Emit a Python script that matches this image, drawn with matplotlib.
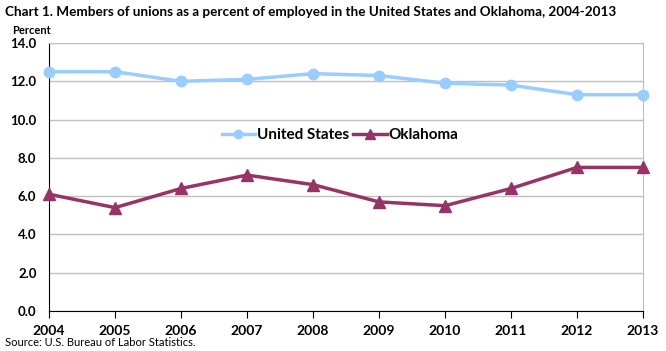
import matplotlib
matplotlib.use("Agg")
import matplotlib.pyplot as plt

years = [2004, 2005, 2006, 2007, 2008, 2009, 2010, 2011, 2012, 2013]
us_values = [12.5, 12.5, 12.0, 12.1, 12.4, 12.3, 11.9, 11.8, 11.3, 11.3]
ok_values = [6.1, 5.4, 6.4, 7.1, 6.6, 5.7, 5.5, 6.4, 7.5, 7.5]
y_ticks = [0, 2, 4, 6, 8, 10, 12, 14]

plt.rcParams['font.family'] = ['Lato', 'DejaVu Sans']

fig = plt.figure(figsize=(6.66, 3.51), dpi=100)
ax = fig.add_axes([49/666, (351-311)/351, (643-49)/666, (311-43)/351])

us_color = "#99CCFF"
ok_color = "#993366"
ax.plot(years, us_values, color=us_color, lw=2.5, marker="o", ms=7.5, label="United States", clip_on=False, zorder=3)
ax.plot(years, ok_values, color=ok_color, lw=2.5, marker="^", ms=8.5, label="Oklahoma", clip_on=False, zorder=3)

ax.set_xlim(2004, 2013)
ax.set_ylim(0, 14)
ax.set_yticks(y_ticks)
ax.set_yticklabels([f"{v:.1f}" for v in y_ticks], fontsize=9.5, fontweight="bold")
ax.set_xticks(years)
ax.set_xticklabels([str(y) for y in years], fontsize=10, fontweight="bold")
ax.yaxis.grid(True, color="#BFBFBF", lw=1)
ax.set_axisbelow(True)
for s in ["top", "right"]:
    ax.spines[s].set_color("#BFBFBF")
for s in ["left", "bottom"]:
    ax.spines[s].set_color("black")
ax.tick_params(axis="y", length=0, pad=9)
ax.tick_params(axis="x", length=5, direction="out", pad=5, color="black")

leg = ax.legend(loc="center", bbox_to_anchor=(0.49, 0.655), ncol=2, frameon=False,
                prop={'weight': 'bold', 'size': 11}, handlelength=2.2, columnspacing=0.3,
                handletextpad=0.1, markerscale=0.8)

fig.text(5/666, 1 - 12/351, "Chart 1. Members of unions as a percent of employed in the United States and Oklahoma, 2004-2013",
         fontsize=9.7, fontweight="bold", va="center", ha="left")
fig.text(12/666, 1 - 30/351, "Percent", fontsize=8, fontweight="bold", va="center", ha="left")
fig.text(5/666, 1 - 343/351, "Source: U.S. Bureau of Labor Statistics.", fontsize=8, va="center", ha="left")

fig.savefig("out.png", dpi=100)
